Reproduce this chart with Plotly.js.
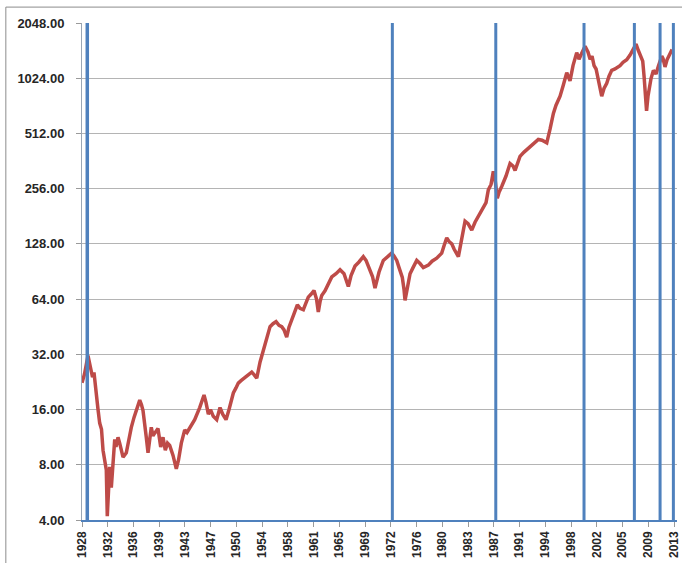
<!DOCTYPE html>
<html>
<head>
<meta charset="utf-8">
<script src="https://cdn.plot.ly/plotly-3.0.1.min.js"></script>
<style>
html,body{margin:0;padding:0;background:#fff;}
#chart{width:682px;height:563px;}
</style>
</head>
<body>
<div id="chart"></div>
<script>
// Decimal years (axis coordinate) and index level
var years = [
1928.00,1928.36,1928.86,1929.34,1929.51,1929.72,1930.05,1930.30,1930.54,1930.80,
1931.02,1931.49,1931.63,1931.81,1931.98,1932.21,1932.45,1932.70,1932.88,1933.17,
1933.41,1933.67,1933.89,1934.36,1934.68,1935.08,1935.47,1935.80,1936.29,1936.54,
1936.76,1937.23,1937.48,1937.95,1938.19,1938.44,1938.91,1939.30,1939.63,1939.96,
1940.28,1940.59,1941.07,1941.54,1941.86,1942.26,1942.75,1943.08,1943.47,1943.79,
1944.18,1944.90,1945.52,1945.80,1946.14,1946.45,1946.85,1947.34,1947.53,1947.82,
1948.20,1948.68,1949.11,1949.73,1950.11,1950.44,1950.83,1951.41,1951.84,1952.37,
1952.70,1953.09,1953.56,1954.03,1954.49,1955.00,1955.43,1955.86,1956.29,1956.68,
1957.01,1957.39,1957.72,1958.11,1958.51,1958.92,1959.30,1959.78,1960.16,1960.49,
1960.88,1961.31,1961.67,1961.93,1962.18,1962.42,1962.89,1963.37,1963.86,1964.47,
1965.05,1965.62,1966.24,1966.63,1967.20,1967.77,1968.39,1968.78,1969.36,1969.71,
1970.07,1970.65,1971.26,1971.80,1972.47,1972.80,1973.19,1973.52,1973.99,1974.24,
1974.38,1974.67,1975.10,1975.53,1976.06,1976.53,1977.01,1977.73,1978.26,1978.93,
1979.65,1979.98,1980.37,1980.70,1981.09,1981.42,1981.81,1982.04,1982.42,1983.00,
1983.43,1983.96,1984.43,1984.91,1985.62,1986.01,1986.34,1986.73,1987.06,1987.30,
1987.63,1987.88,1988.26,1988.88,1989.46,1989.89,1990.18,1990.46,1990.89,1991.47,
1992.09,1992.76,1993.52,1994.05,1994.73,1995.20,1995.68,1996.06,1996.64,1997.07,
1997.60,1998.07,1998.50,1999.03,1999.36,1999.75,2000.23,2000.66,2000.95,2001.23,
2001.52,2001.81,2002.14,2002.62,2002.95,2003.34,2003.67,2004.06,2004.53,2005.25,
2005.68,2006.21,2006.69,2007.16,2007.55,2007.88,2008.20,2008.51,2008.70,2008.84,
2009.06,2009.27,2009.46,2009.70,2010.04,2010.42,2010.75,2011.24,2011.43,2011.71,
2012.00,2012.43,2012.72
];
var level = [
22.4,25,31.5,25.3,24,25.5,18.7,16,13.5,12.5,
9.6,7.5,4.2,6.5,7.8,6.0,8.2,11.0,10,11.3,
10.5,9.5,8.8,9.3,10.8,12.8,14.5,15.8,18.0,17,
15.8,11.3,9.3,12.8,11.5,11.9,12.6,10.0,11.3,9.6,
10.5,10.2,9,7.6,8.5,10.5,12.4,12,12.8,13.2,
14.1,16.4,19.2,17.5,15.1,16,14.7,14.1,15.2,16.4,
15.1,14.1,16,19.7,21,22.3,23,24.0,24.5,25.6,
24.8,23.7,29,33.8,40,45.3,47,48.2,46,45.3,
43.5,39.7,45,49.4,55,59.6,57,56,61,65.6,
68,71.3,64,54.4,62,67,71,77.6,84.5,88,
92.5,88,75,86,97,102,109,104,92.5,85,
73.5,90,104,108,114,110,104,95,84,72,
63,72,88,95,104,100,95,98,103,107,
114,125,138,132,128,120,114,109,130,170,
165,152,168,182,203,215,252,270,318,290,
227,245,263,300,351,340,322,350,384,405,
427,450,475,470,455,540,659,730,817,930,
1097,990,1200,1412,1300,1400,1530,1420,1300,1350,
1200,1150,1000,817,900,960,1050,1130,1150,1200,
1250,1290,1370,1480,1570,1450,1350,1270,1050,870,
680,820,930,1020,1130,1080,1190,1350,1310,1180,
1290,1390,1470
];
// Marked dates (vertical lines), in axis years
var markerYears = [1928.76, 1972.56, 1987.41, 2000.08, 2007.31, 2011.00, 2012.91];
var markerWidths = [3.5, 3, 3, 3, 3, 3, 3];
// Tick labels
var xTickLabels = ['1928','1932','1936','1939','1943','1947','1950','1954','1958','1961','1965','1969',
  '1972','1976','1980','1983','1987','1991','1994','1998','2002','2005','2009','2013'];
var yTickValues = [4, 8, 16, 32, 64, 128, 256, 512, 1024, 2048];

var xFirst = 1928, xLast = 2013;
var xTickVals = xTickLabels.map(function(_, i){ return xFirst + i*(xLast - xFirst)/(xTickLabels.length - 1); });

var traces = [{
  x: years, y: level, type: 'scatter', mode: 'lines',
  line: {color: '#be4b48', width: 3.5}, hoverinfo: 'skip', showlegend: false
}];

var shapes = markerYears.map(function(yr, i){
  return {type: 'line', xref: 'x', yref: 'paper', x0: yr, x1: yr, y0: 0, y1: 1,
    line: {color: '#4f81bd', width: markerWidths[i]}, layer: 'above'};
});
// outer chart frame
shapes.push({type: 'line', xref: 'paper', yref: 'paper', x0: -0.128, x1: 1.02, y0: 1.032, y1: 1.032,
  line: {color: '#8c8c8c', width: 1}});
shapes.push({type: 'line', xref: 'paper', yref: 'paper', x0: -0.128, x1: -0.128, y0: -0.1, y1: 1.032,
  line: {color: '#8c8c8c', width: 1}});

var layout = {
  width: 682, height: 563,
  margin: {l: 82, r: 5, t: 23, b: 43},
  paper_bgcolor: '#ffffff', plot_bgcolor: '#ffffff',
  font: {family: 'Liberation Sans, Arial, sans-serif', color: '#262626'},
  xaxis: {
    range: [1928, 2013.43], tickmode: 'array', tickvals: xTickVals, ticktext: xTickLabels,
    tickangle: -90, tickfont: {size: 12, family: 'Liberation Sans, Arial, sans-serif', weight: 'bold'},
    ticks: 'outside', ticklen: 5, tickcolor: '#9a9a9a',
    showgrid: false, zeroline: false, showline: true, linecolor: '#4f81bd', linewidth: 1.5,
    fixedrange: true
  },
  yaxis: {
    type: 'log', range: [Math.log10(4), Math.log10(2048)],
    tickmode: 'array', tickvals: yTickValues,
    ticktext: yTickValues.map(function(v){ return v.toFixed(2); }),
    tickfont: {size: 13, family: 'Liberation Sans, Arial, sans-serif', weight: 'bold'},
    ticks: 'outside', ticklen: 5, tickcolor: '#9a9a9a', ticklabelstandoff: 9,
    showgrid: true, gridcolor: '#b4b4b4', gridwidth: 1,
    zeroline: false, showline: true, linecolor: '#9aa6b4', linewidth: 1,
    fixedrange: true
  },
  shapes: shapes,
  showlegend: false
};

Plotly.newPlot('chart', traces, layout, {displayModeBar: false, staticPlot: true});
</script>
</body>
</html>
